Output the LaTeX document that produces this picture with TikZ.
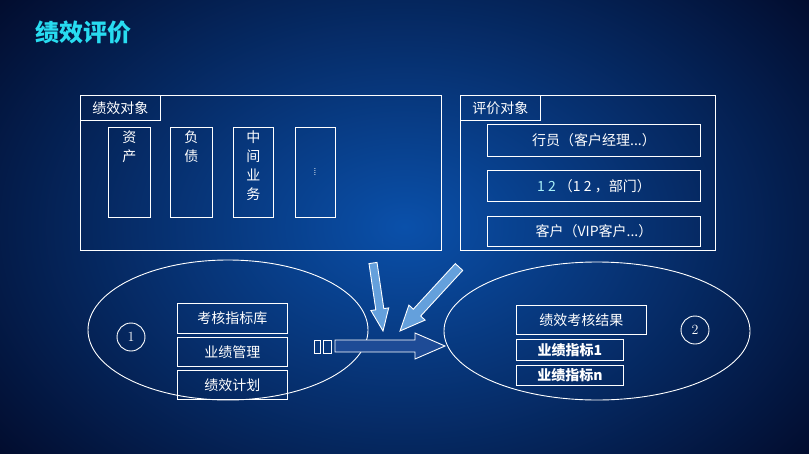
\documentclass[tikz,border=0pt]{standalone}
\usepackage{fontspec}
\newfontfamily\cjk{Noto Sans CJK SC}
\definecolor{bgin}{RGB}{10,80,170}
\definecolor{bgout}{RGB}{2,12,45}
\definecolor{ttl}{RGB}{40,220,240}
\definecolor{lblue}{RGB}{100,160,220}
\definecolor{dblue}{RGB}{30,75,150}
\begin{document}
\begin{tikzpicture}[x=1pt,y=-1pt,
  wl/.style={draw=white,line width=0.9pt},
  bx/.style={wl,text=white,font=\cjk\fontsize{14}{17}\selectfont,inner sep=0pt},
  ]
\useasboundingbox (0,0) rectangle (809,453);
\shade[inner color=bgin,outer color=bgout] (-120,-140) rectangle (929,593);
\node[anchor=west,text=ttl,font=\cjk\bfseries\fontsize{24}{28}\selectfont] (title) at (32,32) {绩效评价};
% left panel
\draw[wl] (80,95) rectangle (441,250);
\node[bx,minimum width=80,minimum height=25,anchor=north west] (lt) at (80,95) {绩效对象};
\node[bx,minimum width=42,minimum height=90,anchor=north west,align=center,text depth=0pt] (c1) at (108,127) {};
\node[anchor=north,text=white,font=\cjk\fontsize{14}{19}\selectfont,align=center] (c1t) at (c1.north) {资\\产};
\node[bx,minimum width=42,minimum height=90,anchor=north west] (c2) at (170,127) {};
\node[anchor=north,text=white,font=\cjk\fontsize{14}{19}\selectfont,align=center] (c2t) at (c2.north) {负\\债};
\node[bx,minimum width=40,minimum height=90,anchor=north west] (c3) at (233,127) {};
\node[anchor=north,text=white,font=\cjk\fontsize{14}{19}\selectfont,align=center] (c3t) at (c3.north) {中\\间\\业\\务};
\node[bx,minimum width=40,minimum height=90,anchor=north west] (c4) at (295,127) {};
\node[text=white,font=\fontsize{10}{6}\selectfont,align=center] (c4t) at (315,172) {.\\[-4pt].\\[-4pt].\\[-4pt].};
% right panel
\draw[wl] (460,95) rectangle (715,250);
\node[bx,minimum width=80,minimum height=25,anchor=north west] (rt) at (460,95) {评价对象};
\node[bx,minimum width=213,minimum height=32,anchor=north west] (r1) at (487,124) {行员（客户经理...）};
\node[bx,minimum width=213,minimum height=31,anchor=north west] (r2) at (487,170) {\textcolor{ttl!40!white}{1 2} （1 2 ，部门）};
\node[bx,minimum width=213,minimum height=30,anchor=north west] (r3) at (487,216) {客户（VIP客户...）};
% ellipses
\draw[wl] (228,330) ellipse (140 and 70);
\draw[wl] (597,331) ellipse (153 and 69);
\node[wl,circle,minimum size=28,text=white,font=\fontsize{14}{16}\selectfont,inner sep=0pt] (n1) at (131,337) {1};
\node[wl,circle,minimum size=28,text=white,font=\fontsize{14}{16}\selectfont,inner sep=0pt] (n2) at (695,330) {2};
\node[bx,minimum width=110,minimum height=30,anchor=north west] (l1) at (177,303) {考核指标库};
\node[bx,minimum width=110,minimum height=29,anchor=north west] (l2) at (177,337) {业绩管理};
\node[bx,minimum width=110,minimum height=29,anchor=north west] (l3) at (177,370) {绩效计划};
\node[bx,minimum width=130,minimum height=29,anchor=north west] (g1) at (516,305) {绩效考核结果};
\node[bx,minimum width=107,minimum height=21,anchor=north west,font=\cjk\bfseries\fontsize{14}{16}\selectfont] (g2) at (516,339) {业绩指标1};
\node[bx,minimum width=107,minimum height=20,anchor=north west,font=\cjk\bfseries\fontsize{14}{16}\selectfont] (g3) at (516,365) {业绩指标n};
% small squares and main arrow
\draw[wl] (314,340) rectangle (320,353);
\draw[wl] (323,340) rectangle (331,353);
\draw[wl,fill=dblue] (335,340) -- (415,340) -- (415,333) -- (445,346) -- (415,359) -- (415,352) -- (335,352) -- cycle;
\draw[wl,fill=lblue] (369,263.6)--(377,262.4)--(383.8,308.6)--(388.7,307.9)--(383,331)--(370.9,310.5)--(375.8,309.8)--cycle;
\draw[wl,fill=lblue] (455.3,263.6)--(462.7,270.4)--(420.7,316)--(425.1,320.1)--(400,331)--(408.9,305.1)--(413.3,309.2)--cycle;
\end{tikzpicture}
\end{document}
